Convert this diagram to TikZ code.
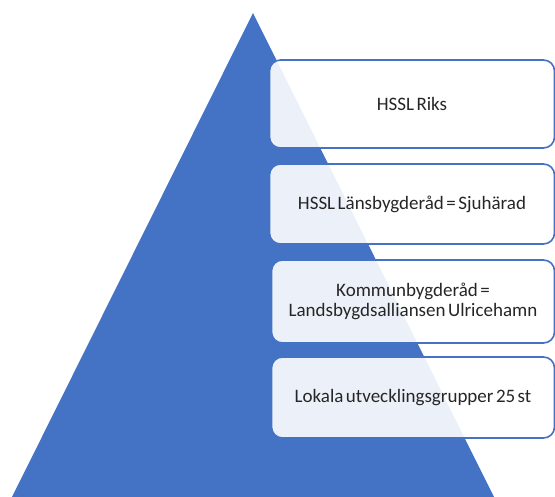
\documentclass[tikz,border=0pt]{standalone}
\usepackage{fontspec}
\setmainfont{Carlito}
\definecolor{pyrblue}{HTML}{4472C4}
\definecolor{txtgray}{HTML}{262626}
\newcommand{\boxfont}{\fontsize{19}{20}\selectfont\spaceskip=0.13em\relax}
\tikzset{
  levelbox/.style={draw=pyrblue, line width=1.6pt, rounded corners=11pt, fill=white, fill opacity=0.9, text opacity=1, text=txtgray, font=\boxfont, align=center}
}
\begin{document}
\begin{tikzpicture}[x=1pt,y=-1pt]
\useasboundingbox (0,0) rectangle (555,497);
\fill[pyrblue] (253,13) coordinate (apex) -- (494,497) coordinate (br) -- (12,497) coordinate (bl) -- cycle;
\node[levelbox, minimum width=285pt, minimum height=88pt] (b1) at (412,104) {HSSL Riks};
\node[levelbox, minimum width=285pt, minimum height=80pt] (b2) at (412,204) {HSSL Länsbygderåd = Sjuhärad};
\node[levelbox, minimum width=283pt, minimum height=83pt] (b3) at (413,301.5) {Kommunbygderåd =\\Landsbygdsalliansen Ulricehamn};
\node[levelbox, minimum width=283pt, minimum height=81pt] (b4) at (413,397.5) {Lokala utvecklingsgrupper 25 st};
\end{tikzpicture}
\end{document}
